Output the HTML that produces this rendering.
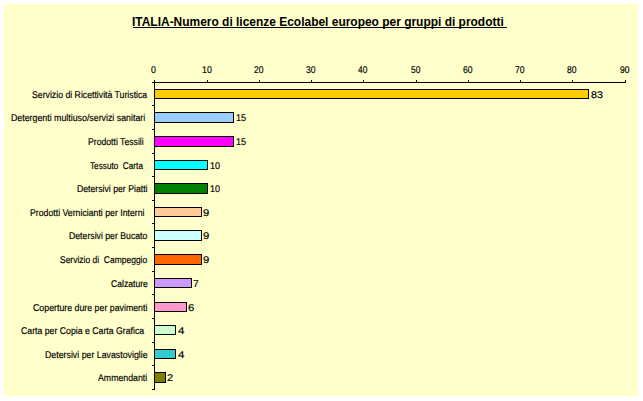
<!DOCTYPE html><html><head><meta charset="utf-8"><style>
html,body{margin:0;padding:0;background:#fff;width:643px;height:401px;overflow:hidden;position:relative}
.bg{position:absolute;left:4px;top:4px;width:634px;height:392px;background:#FFFFCC}
.t{position:absolute;font-family:"Liberation Sans",sans-serif;color:#000;white-space:pre;transform-origin:0 0}
.l{position:absolute;background:#000}
.b{position:absolute;border:1px solid #000;box-sizing:border-box}
</style></head><body><div class="bg"></div>
<div class="t" style="left:132.20px;top:16px;font-size:12px;line-height:12px;font-weight:bold;transform:scaleX(0.9963);">ITALIA-Numero di licenze Ecolabel europeo per gruppi di prodotti</div>
<div class="l" style="left:133px;top:27px;width:374px;height:1px"></div>
<div class="l" style="left:152px;top:82px;width:474px;height:1px"></div>
<div class="l" style="left:154px;top:82px;width:1px;height:308px"></div>
<div class="l" style="left:154px;top:80px;width:1px;height:2px"></div>
<div class="t" style="left:151.26px;top:66px;font-size:9.8px;line-height:9.8px;transform:scaleX(0.8965);text-rendering:geometricPrecision;-webkit-text-stroke:0.17px #000;">0</div>
<div class="l" style="left:207px;top:80px;width:1px;height:2px"></div>
<div class="t" style="left:201.63px;top:66px;font-size:9.8px;line-height:9.8px;transform:scaleX(0.9006);text-rendering:geometricPrecision;-webkit-text-stroke:0.17px #000;">10</div>
<div class="l" style="left:259px;top:80px;width:1px;height:2px"></div>
<div class="t" style="left:253.87px;top:66px;font-size:9.8px;line-height:9.8px;transform:scaleX(0.8778);text-rendering:geometricPrecision;-webkit-text-stroke:0.17px #000;">20</div>
<div class="l" style="left:311px;top:80px;width:1px;height:2px"></div>
<div class="t" style="left:305.98px;top:66px;font-size:9.8px;line-height:9.8px;transform:scaleX(0.8675);text-rendering:geometricPrecision;-webkit-text-stroke:0.17px #000;">30</div>
<div class="l" style="left:363px;top:80px;width:1px;height:2px"></div>
<div class="t" style="left:358.11px;top:66px;font-size:9.8px;line-height:9.8px;transform:scaleX(0.8550);text-rendering:geometricPrecision;-webkit-text-stroke:0.17px #000;">40</div>
<div class="l" style="left:416px;top:80px;width:1px;height:2px"></div>
<div class="t" style="left:410.96px;top:66px;font-size:9.8px;line-height:9.8px;transform:scaleX(0.8691);text-rendering:geometricPrecision;-webkit-text-stroke:0.17px #000;">50</div>
<div class="l" style="left:468px;top:80px;width:1px;height:2px"></div>
<div class="t" style="left:462.86px;top:66px;font-size:9.8px;line-height:9.8px;transform:scaleX(0.8782);text-rendering:geometricPrecision;-webkit-text-stroke:0.17px #000;">60</div>
<div class="l" style="left:520px;top:80px;width:1px;height:2px"></div>
<div class="t" style="left:514.86px;top:66px;font-size:9.8px;line-height:9.8px;transform:scaleX(0.8787);text-rendering:geometricPrecision;-webkit-text-stroke:0.17px #000;">70</div>
<div class="l" style="left:572px;top:80px;width:1px;height:2px"></div>
<div class="t" style="left:566.93px;top:66px;font-size:9.8px;line-height:9.8px;transform:scaleX(0.8720);text-rendering:geometricPrecision;-webkit-text-stroke:0.17px #000;">80</div>
<div class="l" style="left:625px;top:80px;width:1px;height:2px"></div>
<div class="t" style="left:619.90px;top:66px;font-size:9.8px;line-height:9.8px;transform:scaleX(0.8749);text-rendering:geometricPrecision;-webkit-text-stroke:0.17px #000;">90</div>
<div class="l" style="left:152px;top:82px;width:2px;height:1px"></div>
<div class="l" style="left:152px;top:105px;width:2px;height:1px"></div>
<div class="l" style="left:152px;top:129px;width:2px;height:1px"></div>
<div class="l" style="left:152px;top:153px;width:2px;height:1px"></div>
<div class="l" style="left:152px;top:176px;width:2px;height:1px"></div>
<div class="l" style="left:152px;top:200px;width:2px;height:1px"></div>
<div class="l" style="left:152px;top:223px;width:2px;height:1px"></div>
<div class="l" style="left:152px;top:247px;width:2px;height:1px"></div>
<div class="l" style="left:152px;top:271px;width:2px;height:1px"></div>
<div class="l" style="left:152px;top:294px;width:2px;height:1px"></div>
<div class="l" style="left:152px;top:318px;width:2px;height:1px"></div>
<div class="l" style="left:152px;top:342px;width:2px;height:1px"></div>
<div class="l" style="left:152px;top:365px;width:2px;height:1px"></div>
<div class="l" style="left:152px;top:389px;width:2px;height:1px"></div>
<div class="b" style="left:154px;top:89px;width:435px;height:10px;background:#FFCC00"></div>
<div class="t" style="left:31.60px;top:91px;font-size:9.8px;line-height:9.8px;transform:scaleX(0.8889);text-rendering:geometricPrecision;-webkit-text-stroke:0.17px #000;">Servizio di Ricettività Turistica</div>
<div class="t" style="left:590.53px;top:91px;font-size:9.8px;line-height:9.8px;transform:scaleX(1.0952);text-rendering:geometricPrecision;-webkit-text-stroke:0.17px #000;">83</div>
<div class="b" style="left:154px;top:112px;width:80px;height:11px;background:#99CCFF"></div>
<div class="t" style="left:10.98px;top:114px;font-size:9.8px;line-height:9.8px;transform:scaleX(0.8994);text-rendering:geometricPrecision;-webkit-text-stroke:0.17px #000;">Detergenti multiuso/servizi sanitari</div>
<div class="t" style="left:236.31px;top:114px;font-size:9.8px;line-height:9.8px;transform:scaleX(0.9238);text-rendering:geometricPrecision;-webkit-text-stroke:0.17px #000;">15</div>
<div class="b" style="left:154px;top:136px;width:80px;height:11px;background:#FF00FF"></div>
<div class="t" style="left:87.79px;top:138px;font-size:9.8px;line-height:9.8px;transform:scaleX(0.8838);text-rendering:geometricPrecision;-webkit-text-stroke:0.17px #000;">Prodotti Tessili</div>
<div class="t" style="left:236.31px;top:138px;font-size:9.8px;line-height:9.8px;transform:scaleX(0.9238);text-rendering:geometricPrecision;-webkit-text-stroke:0.17px #000;">15</div>
<div class="b" style="left:154px;top:160px;width:54px;height:10px;background:#00FFFF"></div>
<div class="t" style="left:90.12px;top:162px;font-size:9.8px;line-height:9.8px;transform:scaleX(0.8384);text-rendering:geometricPrecision;-webkit-text-stroke:0.17px #000;">Tessuto  Carta</div>
<div class="t" style="left:210.31px;top:162px;font-size:9.8px;line-height:9.8px;transform:scaleX(0.9211);text-rendering:geometricPrecision;-webkit-text-stroke:0.17px #000;">10</div>
<div class="b" style="left:154px;top:183px;width:54px;height:11px;background:#008000"></div>
<div class="t" style="left:77.09px;top:185px;font-size:9.8px;line-height:9.8px;transform:scaleX(0.8866);text-rendering:geometricPrecision;-webkit-text-stroke:0.17px #000;">Detersivi per Piatti</div>
<div class="t" style="left:210.31px;top:185px;font-size:9.8px;line-height:9.8px;transform:scaleX(0.9211);text-rendering:geometricPrecision;-webkit-text-stroke:0.17px #000;">10</div>
<div class="b" style="left:154px;top:207px;width:48px;height:10px;background:#FFCC99"></div>
<div class="t" style="left:29.68px;top:209px;font-size:9.8px;line-height:9.8px;transform:scaleX(0.8908);text-rendering:geometricPrecision;-webkit-text-stroke:0.17px #000;">Prodotti Vernicianti per Interni</div>
<div class="t" style="left:202.97px;top:209px;font-size:9.8px;line-height:9.8px;transform:scaleX(1.1487);text-rendering:geometricPrecision;-webkit-text-stroke:0.17px #000;">9</div>
<div class="b" style="left:154px;top:230px;width:48px;height:11px;background:#CCFFFF"></div>
<div class="t" style="left:69.09px;top:232px;font-size:9.8px;line-height:9.8px;transform:scaleX(0.8883);text-rendering:geometricPrecision;-webkit-text-stroke:0.17px #000;">Detersivi per Bucato</div>
<div class="t" style="left:202.97px;top:232px;font-size:9.8px;line-height:9.8px;transform:scaleX(1.1487);text-rendering:geometricPrecision;-webkit-text-stroke:0.17px #000;">9</div>
<div class="b" style="left:154px;top:254px;width:48px;height:11px;background:#FF6600"></div>
<div class="t" style="left:60.21px;top:256px;font-size:9.8px;line-height:9.8px;transform:scaleX(0.8657);text-rendering:geometricPrecision;-webkit-text-stroke:0.17px #000;">Servizio di  Campeggio</div>
<div class="t" style="left:202.97px;top:256px;font-size:9.8px;line-height:9.8px;transform:scaleX(1.1487);text-rendering:geometricPrecision;-webkit-text-stroke:0.17px #000;">9</div>
<div class="b" style="left:154px;top:278px;width:38px;height:10px;background:#CC99FF"></div>
<div class="t" style="left:110.56px;top:280px;font-size:9.8px;line-height:9.8px;transform:scaleX(0.8803);text-rendering:geometricPrecision;-webkit-text-stroke:0.17px #000;">Calzature</div>
<div class="t" style="left:193.47px;top:280px;font-size:9.8px;line-height:9.8px;transform:scaleX(1.0550);text-rendering:geometricPrecision;-webkit-text-stroke:0.17px #000;">7</div>
<div class="b" style="left:154px;top:302px;width:33px;height:10px;background:#FF99CC"></div>
<div class="t" style="left:33.25px;top:304px;font-size:9.8px;line-height:9.8px;transform:scaleX(0.8978);text-rendering:geometricPrecision;-webkit-text-stroke:0.17px #000;">Coperture dure per pavimenti</div>
<div class="t" style="left:188.23px;top:304px;font-size:9.8px;line-height:9.8px;transform:scaleX(1.1499);text-rendering:geometricPrecision;-webkit-text-stroke:0.17px #000;">6</div>
<div class="b" style="left:154px;top:325px;width:22px;height:10px;background:#CCFFCC"></div>
<div class="t" style="left:21.46px;top:327px;font-size:9.8px;line-height:9.8px;transform:scaleX(0.8901);text-rendering:geometricPrecision;-webkit-text-stroke:0.17px #000;">Carta per Copia e Carta Grafica</div>
<div class="t" style="left:177.54px;top:327px;font-size:9.8px;line-height:9.8px;transform:scaleX(1.1745);text-rendering:geometricPrecision;-webkit-text-stroke:0.17px #000;">4</div>
<div class="b" style="left:154px;top:349px;width:22px;height:10px;background:#33CCCC"></div>
<div class="t" style="left:44.88px;top:351px;font-size:9.8px;line-height:9.8px;transform:scaleX(0.8971);text-rendering:geometricPrecision;-webkit-text-stroke:0.17px #000;">Detersivi per Lavastoviglie</div>
<div class="t" style="left:177.54px;top:351px;font-size:9.8px;line-height:9.8px;transform:scaleX(1.1745);text-rendering:geometricPrecision;-webkit-text-stroke:0.17px #000;">4</div>
<div class="b" style="left:154px;top:372px;width:12px;height:11px;background:#808000"></div>
<div class="t" style="left:98.48px;top:374px;font-size:9.8px;line-height:9.8px;transform:scaleX(0.8944);text-rendering:geometricPrecision;-webkit-text-stroke:0.17px #000;">Ammendanti</div>
<div class="t" style="left:167.45px;top:374px;font-size:9.8px;line-height:9.8px;transform:scaleX(1.1199);text-rendering:geometricPrecision;-webkit-text-stroke:0.17px #000;">2</div>
</body></html>
